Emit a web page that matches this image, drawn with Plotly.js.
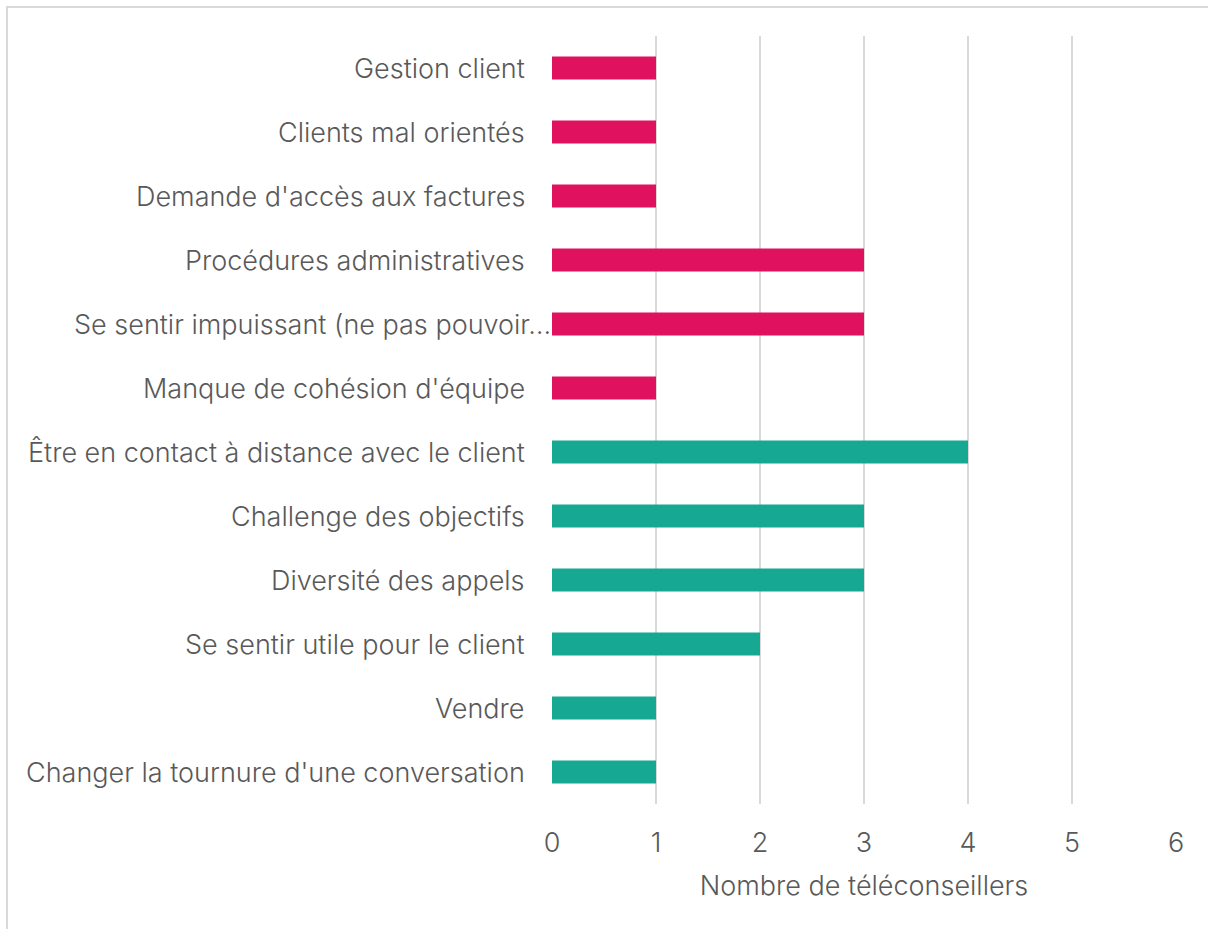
<!DOCTYPE html>
<html>
<head>
<meta charset="utf-8">
<script src="https://cdn.plot.ly/plotly-3.0.1.min.js"></script>
<style>
  html, body { margin: 0; padding: 0; background: #ffffff; }
  #frame { position: absolute; left: 6px; top: 6px; width: 1210px; height: 930px; border-top: 2px solid #d9d9d9; border-left: 2px solid #d9d9d9; box-sizing: border-box; pointer-events: none; z-index: 2; }
  #chart { position: absolute; left: 0; top: 0; width: 1208px; height: 929px; }
</style>
</head>
<body>
<div id="chart"></div>
<div id="frame"></div>
<script>
const categories = [
  "Gestion client",
  "Clients mal orientés",
  "Demande d'accès aux factures",
  "Procédures administratives",
  "Se sentir impuissant (ne pas pouvoir…",
  "Manque de cohésion d'équipe",
  "Être en contact à distance avec le client",
  "Challenge des objectifs",
  "Diversité des appels",
  "Se sentir utile pour le client",
  "Vendre",
  "Changer la tournure d'une conversation"
];
const values = [1, 1, 1, 3, 3, 1, 4, 3, 3, 2, 1, 1];
const groups = ["neg","neg","neg","neg","neg","neg","pos","pos","pos","pos","pos","pos"];
const xTicks = [0, 1, 2, 3, 4, 5, 6];
const axisTitle = "Nombre de téléconseillers";

const colorMap = { neg: "#E0115F", pos: "#17A893" };
const font = "Inter, Liberation Sans, Arial, sans-serif";
const textColor = "#595959";

const trace = {
  type: "bar",
  orientation: "h",
  y: categories,
  x: values,
  marker: { color: groups.map(g => colorMap[g]) },
  width: 0.36,
  hoverinfo: "x+y"
};

const annotations = categories.map(c => ({
  x: 0, y: c, xref: "x", yref: "y",
  text: c,
  showarrow: false,
  xanchor: "right",
  yanchor: "middle",
  xshift: c.endsWith("…") ? 1 : -25,
  font: { family: font, size: 27, weight: 300, color: textColor }
}));

const layout = {
  width: 1208,
  height: 929,
  margin: { l: 552, r: 32, t: 36, b: 125 },
  paper_bgcolor: "#ffffff",
  plot_bgcolor: "#ffffff",
  showlegend: false,
  font: { family: font, size: 27, weight: 300, color: textColor },
  xaxis: {
    range: [0, 6],
    tickvals: xTicks,
    ticktext: xTicks.map(String),
    showgrid: true,
    gridcolor: "#d9d9d9",
    gridwidth: 2,
    zeroline: false,
    showline: false,
    ticks: "",
    tickfont: { family: font, size: 27, weight: 300, color: textColor },
    ticklabelstandoff: 20,
    title: { text: axisTitle, font: { family: font, size: 27, weight: 300, color: textColor }, standoff: 18 }
  },
  yaxis: {
    type: "category",
    autorange: "reversed",
    showticklabels: false,
    showgrid: false,
    zeroline: false,
    showline: false,
    ticks: ""
  },
  annotations: annotations
};

Plotly.newPlot("chart", [trace], layout, { displayModeBar: false });
</script>
</body>
</html>
